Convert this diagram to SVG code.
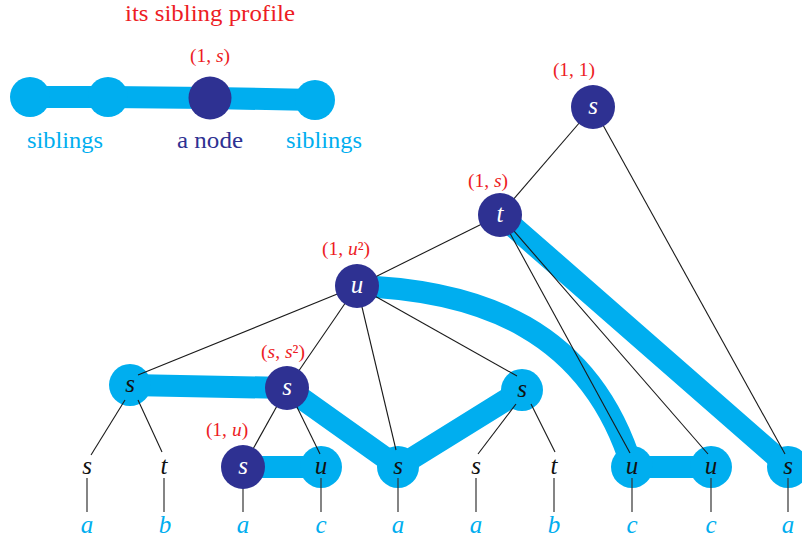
<svg xmlns="http://www.w3.org/2000/svg" width="802" height="543" viewBox="0 0 802 543">
<style>
.bar{fill:none;stroke:#00AEEF;stroke-width:22;stroke-linejoin:round;stroke-linecap:round}
.lb{fill:#00AEEF}
.dk{fill:#2E3192}
.edge{stroke:#1a1a1a;stroke-width:1.1;fill:none}
.stem{stroke:#333;stroke-width:1.2}
.nt{font-family:"Liberation Serif",serif;font-style:italic;font-size:25px;text-anchor:middle}
.w{fill:#fff}
.k{fill:#111}
.leaf{font-family:"Liberation Serif",serif;font-style:italic;font-size:25px;text-anchor:middle;fill:#00AEEF}
.red{font-family:"Liberation Serif",serif;font-size:19.5px;text-anchor:middle;fill:#ED1C24}
.leg{font-family:"Liberation Serif",serif;font-size:24px;text-anchor:middle}
</style>
<rect width="802" height="543" fill="#fff"/>
<g id="legend">
<text class="leg" x="210" y="21" fill="#ED1C24" textLength="170" lengthAdjust="spacingAndGlyphs">its sibling profile</text>
<text class="red" x="210" y="62">(1, <tspan font-style="italic">s</tspan>)</text>
<polyline class="bar" stroke-width="20" points="30,97 108,97 210,98 315,100"/>
<circle class="lb" cx="30" cy="97" r="20"/>
<circle class="lb" cx="108" cy="97" r="20"/>
<circle class="dk" cx="210" cy="98" r="21.5"/>
<circle class="lb" cx="315" cy="100" r="20"/>
<text class="leg" x="65" y="148" fill="#00AEEF" textLength="76" lengthAdjust="spacingAndGlyphs">siblings</text>
<text class="leg" x="210" y="148" fill="#2E3192" textLength="66" lengthAdjust="spacingAndGlyphs">a node</text>
<text class="leg" x="324" y="148" fill="#00AEEF" textLength="76" lengthAdjust="spacingAndGlyphs">siblings</text>
</g>
<g id="bars">
<polyline class="bar" points="130,385 287,388 398,467 522,390"/>
<polyline class="bar" points="243,467 321,467"/>
<path class="bar" d="M357,286 C480,290 590,330 632,467 L711,467"/>
<polyline class="bar" points="500,215 788,467"/>
</g>
<g id="light-nodes">
<circle class="lb" cx="130" cy="385" r="21"/>
<circle class="lb" cx="522" cy="390" r="21"/>
<circle class="lb" cx="321" cy="467" r="21"/>
<circle class="lb" cx="398" cy="467" r="21"/>
<circle class="lb" cx="632" cy="467" r="21"/>
<circle class="lb" cx="711" cy="467" r="21"/>
<circle class="lb" cx="788" cy="467" r="21"/>
</g>
<g id="edges">
<line class="edge" x1="593" y1="107" x2="500" y2="215"/>
<line class="edge" x1="593" y1="107" x2="785" y2="454"/>
<line class="edge" x1="500" y1="215" x2="357" y2="286"/>
<line class="edge" x1="500" y1="215" x2="630" y2="453"/>
<line class="edge" x1="500" y1="215" x2="708" y2="454"/>
<line class="edge" x1="357" y1="286" x2="138" y2="375"/>
<line class="edge" x1="357" y1="286" x2="287" y2="388"/>
<line class="edge" x1="357" y1="286" x2="396" y2="450"/>
<line class="edge" x1="357" y1="286" x2="517" y2="376"/>
<line class="edge" x1="125" y1="400" x2="91" y2="455"/>
<line class="edge" x1="138" y1="400" x2="162" y2="452"/>
<line class="edge" x1="287" y1="388" x2="243" y2="467"/>
<line class="edge" x1="296" y1="405" x2="320" y2="454"/>
<line class="edge" x1="516" y1="404" x2="478" y2="454"/>
<line class="edge" x1="531" y1="404" x2="555" y2="452"/>
<g class="stem">
<line x1="87" y1="478" x2="87" y2="512"/>
<line x1="164" y1="478" x2="164" y2="512"/>
<line x1="243" y1="478" x2="243" y2="512"/>
<line x1="321" y1="478" x2="321" y2="512"/>
<line x1="398" y1="478" x2="398" y2="512"/>
<line x1="476" y1="478" x2="476" y2="512"/>
<line x1="554" y1="478" x2="554" y2="512"/>
<line x1="632" y1="478" x2="632" y2="512"/>
<line x1="711" y1="478" x2="711" y2="512"/>
<line x1="788" y1="478" x2="788" y2="512"/>
</g>
</g>
<g id="dark-nodes">
<circle class="dk" cx="593" cy="107" r="22"/>
<circle class="dk" cx="500" cy="215" r="22"/>
<circle class="dk" cx="357" cy="286" r="22"/>
<circle class="dk" cx="287" cy="388" r="22"/>
<circle class="dk" cx="243" cy="467" r="22"/>
</g>
<g id="node-labels">
<text class="nt w" x="593" y="114">s</text>
<text class="nt w" x="500" y="222">t</text>
<text class="nt w" x="357" y="293">u</text>
<text class="nt w" x="287" y="395">s</text>
<text class="nt w" x="243" y="474">s</text>
<text class="nt k" x="130" y="392">s</text>
<text class="nt k" x="522" y="397">s</text>
<text class="nt k" x="321" y="474">u</text>
<text class="nt k" x="398" y="474">s</text>
<text class="nt k" x="632" y="474">u</text>
<text class="nt k" x="711" y="474">u</text>
<text class="nt k" x="788" y="474">s</text>
<text class="nt k" x="87" y="474">s</text>
<text class="nt k" x="164" y="474">t</text>
<text class="nt k" x="476" y="474">s</text>
<text class="nt k" x="554" y="474">t</text>
</g>
<g id="profiles">
<text class="red" x="574" y="76">(1, 1)</text>
<text class="red" x="488" y="187">(1, <tspan font-style="italic">s</tspan>)</text>
<text class="red" x="346" y="255">(1, <tspan font-style="italic">u</tspan>²)</text>
<text class="red" x="283" y="358">(<tspan font-style="italic">s</tspan>, <tspan font-style="italic">s</tspan>²)</text>
<text class="red" x="227" y="436">(1, <tspan font-style="italic">u</tspan>)</text>
</g>
<g id="leaves">
<text class="leaf" x="87" y="533">a</text>
<text class="leaf" x="165" y="533">b</text>
<text class="leaf" x="243" y="533">a</text>
<text class="leaf" x="321" y="533">c</text>
<text class="leaf" x="398" y="533">a</text>
<text class="leaf" x="476" y="533">a</text>
<text class="leaf" x="554" y="533">b</text>
<text class="leaf" x="632" y="533">c</text>
<text class="leaf" x="711" y="533">c</text>
<text class="leaf" x="788" y="533">a</text>
</g>
</svg>
